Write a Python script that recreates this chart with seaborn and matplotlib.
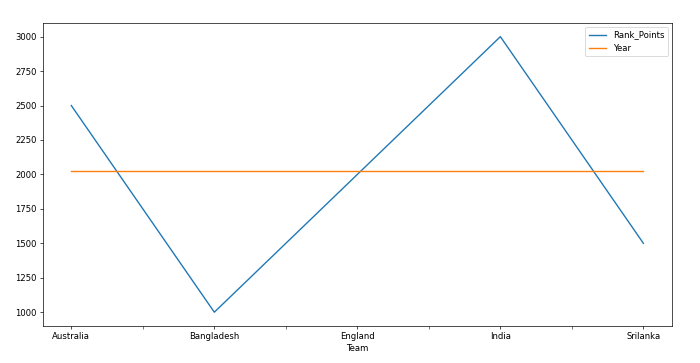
import pandas as pd
import matplotlib
matplotlib.use("Agg")
import matplotlib.pyplot as plt
import seaborn as sns

teams = ["Australia", "Bangladesh", "England", "India", "Srilanka"]
rank_points = [2500, 1000, 2000, 3000, 1500]
years = [2022, 2022, 2022, 2022, 2022]

df = pd.DataFrame({"Team": teams, "Rank_Points": rank_points, "Year": years})
df["pos"] = range(len(df))

dpi = 61.7
fig, ax = plt.subplots(figsize=(700 / dpi, 363 / dpi), dpi=dpi)
sns.lineplot(data=df, x="pos", y="Rank_Points", ax=ax, label="Rank_Points",
             color="#1f77b4", linewidth=1.6)
sns.lineplot(data=df, x="pos", y="Year", ax=ax, label="Year",
             color="#ff7f0e", linewidth=1.6)

ax.set_xlim(-0.2, len(teams) - 1 + 0.2)
ax.set_xticks(df["pos"])
ax.set_xticklabels(teams)
ax.set_xticks([p + 0.5 for p in df["pos"][:-1]], minor=True)
ax.tick_params(axis="x", which="minor", length=3.5)
ax.set_xlabel("Team")
ax.set_ylabel("")
ax.legend(loc="upper right")

fig.subplots_adjust(left=0.061, right=0.96, top=0.937, bottom=0.102)
fig.savefig("out.png", dpi=dpi)
